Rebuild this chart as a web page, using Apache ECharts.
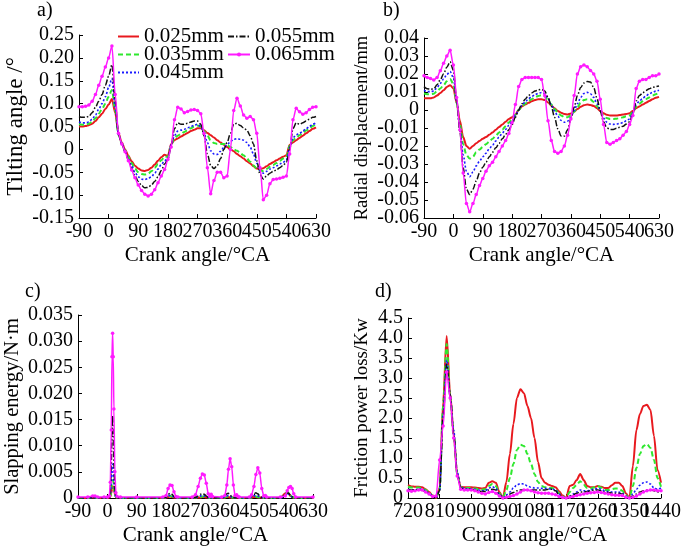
<!DOCTYPE html>
<html><head><meta charset="utf-8">
<script src="https://cdn.jsdelivr.net/npm/echarts@6/dist/echarts.min.js"></script>
<style>html,body{margin:0;padding:0;background:#fff}#c{width:685px;height:550px}</style>
</head><body><div id="c"></div>
<script>
const seriesNames = ['0.025mm','0.035mm','0.045mm','0.055mm','0.065mm'];

// tick labels
const xTicksAB = ['-90','0','90','180','270','360','450','540','630'];
const xTicksD = ['720','810','900','990','1080','1170','1260','1350','1440'];
const yTicksA = ['-0.15','-0.10','-0.05','0','0.05','0.10','0.15','0.20','0.25'];
const yTicksB = ['-0.06','-0.05','-0.04','-0.03','-0.02','-0.01','0','0.01','0.02','0.03','0.04'];
const yTicksC = ['0','0.005','0.010','0.015','0.020','0.025','0.030','0.035'];
const yTicksD = ['0','0.5','1.0','1.5','2.0','2.5','3.0','3.5','4.0','4.5'];

const angleAB = [-90,-80,-70,-60,-50,-40,-30,-20,-10,0,10,20,30,40,50,60,70,80,90,100,110,120,130,140,150,160,170,180,190,200,210,220,230,240,250,260,270,280,290,300,310,320,330,340,350,360,370,380,390,400,410,420,430,440,450,460,470,480,490,500,510,520,530,540,550,560,570,580,590,600,610,620,630];

// a) Tilting angle
const tilt025 = [0.05,0.05,0.051,0.053,0.056,0.062,0.07,0.078,0.088,0.098,0.11,0.08,0.035,0.015,0.0,-0.014,-0.026,-0.036,-0.042,-0.046,-0.047,-0.045,-0.04,-0.033,-0.025,-0.017,-0.012,-0.014,0.012,0.02,0.024,0.028,0.032,0.036,0.04,0.043,0.046,0.046,0.042,0.036,0.031,0.026,0.02,0.015,0.01,0.005,0.0,-0.004,-0.01,-0.015,-0.02,-0.026,-0.031,-0.037,-0.042,-0.043,-0.041,-0.037,-0.032,-0.028,-0.024,-0.02,-0.016,-0.013,0.01,0.015,0.02,0.025,0.03,0.035,0.04,0.045,0.048];
const tilt035 = [0.055,0.054,0.054,0.056,0.06,0.068,0.078,0.088,0.1,0.115,0.13,0.085,0.032,0.013,-0.002,-0.016,-0.03,-0.042,-0.05,-0.054,-0.055,-0.053,-0.048,-0.04,-0.032,-0.024,-0.016,-0.016,0.01,0.025,0.03,0.034,0.038,0.042,0.046,0.05,0.052,0.05,0.04,0.03,0.02,0.014,0.012,0.012,0.012,0.01,0.005,0.0,-0.003,-0.008,-0.013,-0.02,-0.027,-0.035,-0.042,-0.046,-0.047,-0.043,-0.038,-0.034,-0.03,-0.025,-0.02,-0.018,0.008,0.02,0.026,0.031,0.036,0.041,0.046,0.051,0.055];
const tilt045 = [0.06,0.058,0.058,0.06,0.066,0.075,0.088,0.1,0.115,0.135,0.155,0.092,0.032,0.012,-0.004,-0.02,-0.036,-0.05,-0.06,-0.065,-0.066,-0.064,-0.06,-0.052,-0.043,-0.033,-0.025,-0.02,0.01,0.03,0.04,0.042,0.044,0.047,0.05,0.053,0.055,0.05,0.035,0.015,-0.003,-0.01,-0.011,-0.004,0.004,0.01,0.017,0.022,0.023,0.022,0.02,0.015,0.005,-0.01,-0.03,-0.047,-0.052,-0.048,-0.043,-0.04,-0.036,-0.032,-0.028,-0.024,0.005,0.025,0.032,0.035,0.04,0.045,0.05,0.055,0.058];
const tilt055 = [0.072,0.07,0.07,0.072,0.08,0.092,0.105,0.12,0.14,0.16,0.185,0.105,0.033,0.012,-0.005,-0.023,-0.042,-0.058,-0.07,-0.079,-0.084,-0.083,-0.078,-0.07,-0.06,-0.046,-0.032,-0.022,0.008,0.045,0.058,0.055,0.055,0.057,0.06,0.062,0.062,0.055,0.03,-0.01,-0.035,-0.042,-0.035,-0.02,0.0,0.015,0.035,0.055,0.057,0.052,0.047,0.042,0.03,0.012,-0.025,-0.055,-0.065,-0.058,-0.052,-0.048,-0.045,-0.04,-0.035,-0.028,0.0,0.045,0.058,0.055,0.058,0.062,0.066,0.07,0.072];
const tilt065 = [0.093,0.093,0.094,0.097,0.105,0.12,0.14,0.16,0.18,0.2,0.226,0.12,0.035,0.012,-0.005,-0.025,-0.045,-0.062,-0.078,-0.09,-0.098,-0.102,-0.098,-0.088,-0.073,-0.058,-0.044,-0.022,0.005,0.065,0.092,0.088,0.08,0.083,0.086,0.087,0.085,0.078,0.035,-0.04,-0.097,-0.068,-0.05,-0.05,-0.062,-0.058,0.0,0.085,0.112,0.095,0.075,0.068,0.072,0.065,0.035,-0.04,-0.11,-0.1,-0.075,-0.066,-0.065,-0.063,-0.061,-0.058,-0.01,0.065,0.09,0.082,0.077,0.08,0.087,0.092,0.093];

// b) Radial displacement
const rad025 = [0.0065,0.0065,0.0065,0.007,0.008,0.0095,0.011,0.0128,0.0138,0.012,0.004,-0.006,-0.015,-0.02,-0.0215,-0.02,-0.0185,-0.0172,-0.016,-0.015,-0.0138,-0.0125,-0.011,-0.0095,-0.008,-0.0065,-0.005,-0.004,-0.0025,0.0,0.002,0.003,0.004,0.0048,0.0055,0.006,0.006,0.0055,0.0042,0.0025,0.001,-0.0005,-0.0015,-0.0022,-0.0025,-0.002,-0.001,0.0005,0.0018,0.0027,0.003,0.0028,0.0022,0.001,-0.0005,-0.0018,-0.0027,-0.003,-0.003,-0.003,-0.0028,-0.0025,-0.0022,-0.0018,-0.0005,0.001,0.002,0.003,0.004,0.005,0.006,0.0068,0.0073];
const rad035 = [0.0092,0.0088,0.0088,0.009,0.0105,0.012,0.0138,0.016,0.0172,0.0145,0.004,-0.008,-0.019,-0.025,-0.027,-0.026,-0.0235,-0.022,-0.0205,-0.019,-0.0175,-0.016,-0.0143,-0.0125,-0.0108,-0.009,-0.007,-0.005,-0.0025,0.0,0.002,0.0035,0.005,0.006,0.007,0.0078,0.0082,0.0075,0.0055,0.003,0.0005,-0.0015,-0.003,-0.004,-0.004,-0.003,-0.001,0.0015,0.004,0.0055,0.006,0.0058,0.0045,0.0022,-0.0005,-0.003,-0.0045,-0.005,-0.005,-0.0048,-0.0045,-0.004,-0.0035,-0.003,-0.001,0.002,0.0035,0.0048,0.006,0.007,0.008,0.0088,0.0093];
const rad045 = [0.011,0.0102,0.0102,0.0105,0.0125,0.0148,0.0172,0.0198,0.0214,0.018,0.005,-0.01,-0.025,-0.034,-0.037,-0.0345,-0.031,-0.0285,-0.026,-0.024,-0.0215,-0.0195,-0.0172,-0.015,-0.0128,-0.0108,-0.0085,-0.006,-0.003,0.0,0.0025,0.0045,0.0062,0.0075,0.0085,0.0093,0.0097,0.009,0.0065,0.003,-0.0005,-0.0035,-0.0058,-0.0068,-0.0062,-0.004,-0.0005,0.0035,0.007,0.0092,0.0098,0.009,0.007,0.0035,-0.0005,-0.0045,-0.0068,-0.0078,-0.008,-0.0078,-0.0074,-0.007,-0.006,-0.005,-0.0015,0.003,0.005,0.0065,0.0078,0.009,0.0098,0.0105,0.011];
const rad055 = [0.013,0.0118,0.0115,0.0118,0.014,0.0168,0.0202,0.0238,0.0268,0.022,0.006,-0.012,-0.032,-0.044,-0.047,-0.044,-0.0395,-0.035,-0.0318,-0.029,-0.026,-0.0235,-0.021,-0.0185,-0.016,-0.0135,-0.011,-0.008,-0.004,0.0,0.0035,0.006,0.008,0.0095,0.0105,0.0112,0.0115,0.0105,0.007,0.002,-0.004,-0.0105,-0.0145,-0.0145,-0.011,-0.005,0.0015,0.008,0.0125,0.015,0.0158,0.0155,0.0125,0.0065,-0.0005,-0.0065,-0.0098,-0.0108,-0.0108,-0.0102,-0.0096,-0.009,-0.0078,-0.0065,-0.002,0.005,0.008,0.0095,0.0108,0.0118,0.0125,0.013,0.0133];
const rad065 = [0.019,0.018,0.0175,0.0166,0.018,0.0218,0.026,0.03,0.0332,0.025,0.007,-0.011,-0.035,-0.052,-0.0565,-0.052,-0.047,-0.042,-0.038,-0.034,-0.031,-0.029,-0.026,-0.023,-0.02,-0.017,-0.013,-0.007,0.003,0.013,0.017,0.018,0.018,0.018,0.018,0.018,0.017,0.008,-0.006,-0.017,-0.023,-0.024,-0.023,-0.02,-0.014,-0.005,0.008,0.02,0.024,0.025,0.024,0.022,0.02,0.016,0.006,-0.008,-0.018,-0.019,-0.018,-0.017,-0.016,-0.014,-0.012,-0.008,-0.003,0.012,0.016,0.017,0.017,0.018,0.019,0.019,0.02];

// c) Slapping energy
const angleC = [-90,-60,-45,-38,-30,-10,0,6,9,12,14,16,18,20,23,26,30,40,90,170,180,186,192,198,204,210,216,260,270,278,285,291,297,303,309,314,318,322,350,360,366,371,376,381,386,391,396,400,404,435,442,449,455,461,467,473,479,484,488,530,545,551,556,561,566,571,577,630];
const slap025 = [0,0,0,0,0,0,0, 0.0001,0.0002,0.0009,0.0017,0.0021,0.0022,0.0017,0.0007,0.0002, 0,0,0,0, 0.0001,0.0002,0.0003,0.0002,0.0001, 0,0,0, 0.0001,0.0001,0.0001,0.0002,0.0002,0.0001, 0.0001,0,0,0,0, 0.0001,0.0002,0.0002,0.0001,0.0001, 0.0001,0,0,0,0,0, 0.0001,0.0002,0.0002,0.0001,0.0001, 0.0001,0,0,0,0, 0.0009,0.0011,0.0008,0.0004,0.0002, 0.0001,0,0];
const slap035 = [0,0,0,0,0,0,0, 0.0001,0.0003,0.0015,0.0028,0.0034,0.0033,0.0022,0.0008,0.0002, 0,0,0,0, 0.0001,0.0003,0.0004,0.0003,0.0001, 0,0,0, 0.0001,0.0001,0.0002,0.0003,0.0003,0.0001, 0.0001,0,0,0,0, 0.0001,0.0003,0.0003,0.0002,0.0001, 0.0001,0,0,0,0,0, 0.0001,0.0002,0.0003,0.0002,0.0001, 0.0001,0,0,0,0, 0.0008,0.0012,0.0009,0.0005,0.0002, 0.0001,0,0];
const slap045 = [0,0,0,0,0,0,0, 0.0001,0.0006,0.0028,0.0055,0.0065,0.0052,0.0028,0.0009,0.0002, 0,0,0,0, 0.0001,0.0004,0.0005,0.0004,0.0002, 0,0,0, 0.0001,0.0002,0.0004,0.0005,0.0004,0.0002, 0.0001,0,0,0,0, 0.0002,0.0004,0.0005,0.0003,0.0002, 0.0001,0,0,0,0,0, 0.0002,0.0004,0.0005,0.0004,0.0002, 0.0001,0,0,0,0, 0.0004,0.0008,0.0007,0.0004,0.0002, 0.0001,0,0];
const slap055 = [0,0,0,0,0,0,0, 0.0001,0.0012,0.006,0.013,0.0158,0.012,0.006,0.0015,0.0003, 0,0,0,0, 0.0002,0.0007,0.0009,0.0007,0.0003, 0,0,0, 0.0001,0.0004,0.0007,0.0008,0.0007,0.0004, 0.0001,0,0,0,0, 0.0003,0.0008,0.0009,0.0006,0.0003, 0.0001,0,0,0,0,0, 0.0003,0.0008,0.001,0.0008,0.0004, 0.0001,0,0,0,0, 0.0006,0.001,0.0009,0.0005,0.0002, 0.0001,0,0];
const slap065 = [0.0002,0.0002,0.0004,0.0004,0.0002,0.0002,0.0002, 0.0004,0.003,0.013,0.027,0.0315,0.027,0.017,0.005,0.001, 0.0003,0.0002,0.0002,0.0002, 0.0005,0.0018,0.0025,0.0024,0.0012, 0.0003,0.0002,0.0002, 0.0006,0.0022,0.0038,0.0046,0.0044,0.0028, 0.0008,0.0003,0.0007,0.0003,0.0002, 0.0005,0.0025,0.0055,0.0075,0.006, 0.0025,0.0005,0.0006,0.0003,0.0002,0.0002, 0.0006,0.0022,0.0045,0.0058,0.0048, 0.0018,0.0004,0.0005,0.0002,0.0002, 0.0004,0.0014,0.002,0.0022,0.0018, 0.0008,0.0002,0.0002];

// d) Friction power loss
const angleD = [720,730,740,750,760,770,780,790,800,810,820,830,840,850,860,870,880,890,900,910,920,930,940,950,960,970,980,990,1000,1010,1020,1030,1040,1050,1060,1070,1080,1090,1100,1110,1120,1130,1140,1150,1160,1170,1180,1190,1200,1210,1220,1230,1240,1250,1260,1270,1280,1290,1300,1310,1320,1330,1340,1350,1360,1370,1380,1390,1400,1410,1420,1430,1440];
const fric025 = [0.32,0.29,0.28,0.28,0.27,0.22,0.15,0.06,0.0,0.25,2.4,4.05,2.6,1.6,0.6,0.28,0.27,0.27,0.27,0.26,0.25,0.24,0.25,0.38,0.42,0.38,0.15,0.0,0.4,1.1,1.85,2.5,2.72,2.62,2.3,2.0,1.5,0.9,0.5,0.38,0.33,0.3,0.27,0.17,0.06,0.0,0.3,0.33,0.45,0.6,0.45,0.3,0.27,0.27,0.3,0.28,0.25,0.25,0.32,0.38,0.38,0.3,0.12,0.0,0.8,1.7,2.1,2.3,2.33,2.2,1.55,0.7,0.38];
const fric035 = [0.28,0.26,0.26,0.26,0.25,0.2,0.14,0.05,0.0,0.22,2.3,3.85,2.5,1.55,0.6,0.27,0.25,0.25,0.25,0.24,0.22,0.21,0.22,0.3,0.35,0.3,0.12,0.0,0.2,0.5,0.85,1.2,1.33,1.3,1.1,0.85,0.6,0.4,0.3,0.27,0.25,0.25,0.22,0.12,0.04,0.0,0.15,0.25,0.33,0.42,0.33,0.25,0.24,0.27,0.3,0.26,0.2,0.2,0.22,0.24,0.23,0.18,0.07,0.0,0.3,0.75,1.1,1.3,1.35,1.25,0.95,0.5,0.28];
const fric045 = [0.22,0.2,0.2,0.22,0.22,0.18,0.12,0.05,0.0,0.2,2.1,3.45,2.55,1.7,0.65,0.27,0.24,0.23,0.23,0.22,0.2,0.18,0.18,0.25,0.28,0.24,0.1,0.0,0.08,0.15,0.25,0.33,0.36,0.35,0.3,0.27,0.25,0.25,0.24,0.24,0.23,0.22,0.2,0.1,0.03,0.0,0.05,0.1,0.15,0.2,0.18,0.18,0.2,0.22,0.24,0.22,0.18,0.16,0.15,0.15,0.15,0.12,0.05,0.0,0.1,0.22,0.32,0.38,0.4,0.35,0.25,0.22,0.25];
const fric055 = [0.2,0.2,0.2,0.22,0.2,0.16,0.1,0.04,0.0,0.18,2.0,3.35,2.6,1.6,0.6,0.25,0.22,0.22,0.22,0.2,0.18,0.16,0.16,0.2,0.22,0.2,0.08,0.0,0.05,0.1,0.14,0.18,0.2,0.2,0.2,0.2,0.2,0.2,0.2,0.2,0.22,0.22,0.18,0.08,0.02,0.0,0.04,0.08,0.12,0.15,0.15,0.16,0.18,0.2,0.2,0.18,0.15,0.14,0.12,0.12,0.12,0.1,0.04,0.0,0.05,0.1,0.15,0.18,0.2,0.2,0.18,0.15,0.15];
const fric065 = [0.18,0.17,0.18,0.2,0.2,0.15,0.1,0.04,0.05,0.95,1.8,3.15,2.5,1.5,0.55,0.22,0.2,0.2,0.2,0.18,0.15,0.12,0.1,0.14,0.16,0.12,0.05,0.0,0.02,0.04,0.06,0.1,0.15,0.2,0.2,0.18,0.15,0.13,0.12,0.12,0.12,0.1,0.08,0.04,0.01,0.0,0.02,0.04,0.06,0.08,0.1,0.12,0.13,0.14,0.15,0.14,0.12,0.1,0.08,0.07,0.07,0.06,0.02,0.0,0.02,0.05,0.1,0.15,0.18,0.2,0.2,0.18,0.18];

const FONT = 'Liberation Serif';
const styles = [
  {color:'#e8191e', width:2, type:'solid'},
  {color:'#2ee82e', width:2, type:[5,3]},
  {color:'#1a1aff', width:1.6, type:[2,2]},
  {color:'#111111', width:1.5, type:[6,2,1.5,2]},
  {color:'#ff1aff', width:1.5, type:'solid', symbol:true}
];
const txt = {color:'#000', fontFamily:FONT, fontSize:20};
function font(size){ return {color:'#000', fontFamily:FONT, fontSize:size}; }

// value axes: carry the scale, axis line and inward ticks
function xVal(gi, min, max){
  return {type:'value', gridIndex:gi, min:min, max:max, interval:90, position:'bottom',
    axisLine:{show:true, onZero:false, lineStyle:{color:'#000', width:1}},
    axisTick:{show:true, inside:true, length:4, lineStyle:{color:'#000'}},
    splitLine:{show:false}, axisLabel:{show:false},
    name:'Crank angle/°CA', nameLocation:'middle', nameGap:27, nameTextStyle:font(21)};
}
function yVal(gi, min, max, step, name, gap, size){
  return {type:'value', gridIndex:gi, min:min, max:max, interval:step, position:'left',
    axisLine:{show:true, onZero:false, lineStyle:{color:'#000', width:1}},
    axisTick:{show:true, inside:true, length:4, lineStyle:{color:'#000'}},
    splitLine:{show:false}, axisLabel:{show:false},
    name:name, nameLocation:'middle', nameGap:gap, nameTextStyle:font(size)};
}
// label axes: category axes on the same ticks so every tick label is shown
function xLab(gi, labels){
  return {type:'category', gridIndex:gi, data:labels, boundaryGap:false, position:'bottom',
    axisLine:{show:false}, axisTick:{show:false}, splitLine:{show:false},
    axisLabel:Object.assign({interval:0, margin:4, hideOverlap:false}, txt)};
}
function yLab(gi, labels){
  return {type:'category', gridIndex:gi, data:labels, boundaryGap:false, position:'left',
    axisLine:{show:false}, axisTick:{show:false}, splitLine:{show:false},
    axisLabel:Object.assign({interval:0, margin:5, hideOverlap:false}, txt)};
}
function mk(gi, xs, arrs, smooth){
  return arrs.map((arr, k) => {
    const st = styles[k];
    return {type:'line', name:seriesNames[k], xAxisIndex:gi, yAxisIndex:gi,
      data: xs.map((x, i) => [x, arr[i]]),
      smooth: smooth, smoothMonotone: 'x',
      symbol: st.symbol ? 'circle' : 'none', symbolSize: 3.5, showSymbol: !!st.symbol,
      itemStyle:{color:st.color},
      lineStyle:{color:st.color, width:st.width, type:st.type},
      z: 2 + k, silent:true, animation:false};
  });
}
function legendItem(name, k){
  if (styles[k].symbol) return {name:name};
  return {name:name, itemStyle:{opacity:0, color:'rgba(0,0,0,0)', borderWidth:0}};
}

const option = {
  animation:false,
  backgroundColor:'#fff',
  title:[
    {text:'a)', left:37, top:1, padding:0, textStyle:Object.assign({fontWeight:'normal'}, txt)},
    {text:'b)', left:383, top:1, padding:0, textStyle:Object.assign({fontWeight:'normal'}, txt)},
    {text:'c)', left:25, top:282, padding:0, textStyle:Object.assign({fontWeight:'normal'}, txt)},
    {text:'d)', left:375, top:282, padding:0, textStyle:Object.assign({fontWeight:'normal'}, txt)}
  ],
  legend:[
    {data:[legendItem('0.025mm',0), legendItem('0.035mm',1), legendItem('0.045mm',2)],
     orient:'vertical', left:117, top:26, padding:0, itemWidth:21, itemHeight:5, itemGap:-3,
     textStyle:Object.assign({lineHeight:17}, font(21))},
    {data:[legendItem('0.055mm',3), legendItem('0.065mm',4)],
     orient:'vertical', left:227, top:26, padding:0, itemWidth:22, itemHeight:5, itemGap:-3,
     textStyle:Object.assign({lineHeight:17}, font(21))}
  ],
  grid:[
    {left:79, top:35, width:237, height:183, outerBoundsMode:'none'},
    {left:424, top:38, width:235, height:180, outerBoundsMode:'none'},
    {left:78, top:315, width:235, height:183, outerBoundsMode:'none'},
    {left:408, top:318, width:253, height:180, outerBoundsMode:'none'}
  ],
  xAxis:[
    xVal(0,-90,630), xVal(1,-90,630), xVal(2,-90,630), xVal(3,720,1440),
    xLab(0,xTicksAB), xLab(1,xTicksAB), xLab(2,xTicksAB), xLab(3,xTicksD)
  ],
  yAxis:[
    yVal(0,-0.15,0.25,0.05,'Tilting angle /°',52,23),
    yVal(1,-0.06,0.04,0.01,'Radial displacement/mm',52,18.5),
    yVal(2,0,0.035,0.005,'Slapping energy/N·m',55,20.5),
    yVal(3,0,4.5,0.5,'Friction power loss/Kw',36,19),
    yLab(0,yTicksA), yLab(1,yTicksB), yLab(2,yTicksC), yLab(3,yTicksD)
  ],
  series:[].concat(
    mk(0, angleAB, [tilt025,tilt035,tilt045,tilt055,tilt065], 0.3),
    mk(1, angleAB, [rad025,rad035,rad045,rad055,rad065], 0.3),
    mk(2, angleC, [slap025,slap035,slap045,slap055,slap065], 0.2),
    mk(3, angleD, [fric025,fric035,fric045,fric055,fric065], 0.3)
  )
};
const chart = echarts.init(document.getElementById('c'), null, {renderer:'canvas'});
chart.setOption(option);
</script></body></html>
